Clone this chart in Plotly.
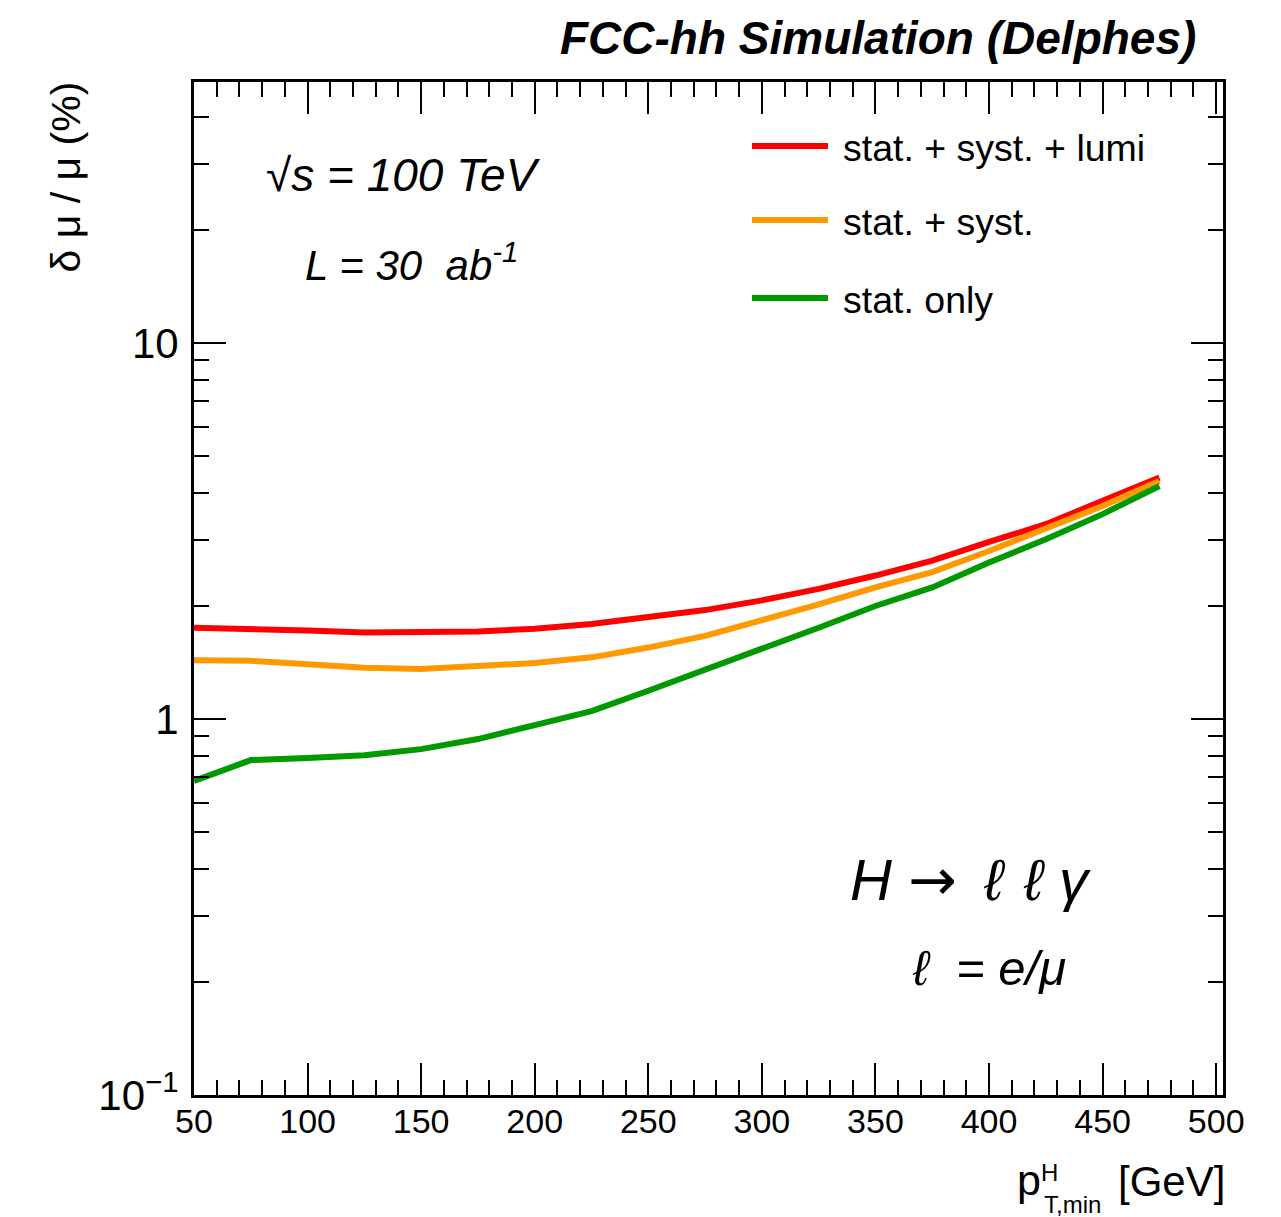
import plotly.graph_objects as go

# ---- data ----
pt_min = [50, 75, 100, 125, 150, 175, 200, 225, 250, 275, 300, 325, 350, 375, 400, 425, 450, 475]
stat_syst_lumi = [1.75, 1.74, 1.72, 1.70, 1.70, 1.71, 1.74, 1.79, 1.87, 1.95, 2.07, 2.22, 2.41, 2.64, 2.96, 3.30, 3.81, 4.39]
stat_syst = [1.435, 1.43, 1.40, 1.37, 1.36, 1.38, 1.41, 1.46, 1.55, 1.665, 1.83, 2.02, 2.24, 2.46, 2.80, 3.20, 3.69, 4.30]
stat_only = [0.685, 0.778, 0.788, 0.802, 0.832, 0.885, 0.964, 1.05, 1.19, 1.36, 1.54, 1.75, 2.00, 2.24, 2.61, 3.01, 3.51, 4.17]

series_names = ["stat. + syst. + lumi", "stat. + syst.", "stat. only"]
series_values = [stat_syst_lumi, stat_syst, stat_only]
series_colors = ["#ff0000", "#ff9900", "#009900"]

y_tickvals = [0.1, 1, 10]
y_ticktext = ["10<sup>\u22121</sup>", "1", "10"]
y_minor = [0.2, 0.3, 0.4, 0.5, 0.6, 0.7, 0.8, 0.9, 2, 3, 4, 5, 6, 7, 8, 9, 20, 30, 40]

# ---- layout geometry (screen pixels; page body has an 8px margin) ----
W, H = 1281, 1217
OFF = 8
L, R, T, B = 194, 1223, 82, 1095
FONT = "Liberation Sans, Arial, Helvetica, sans-serif"


def px(x):
    return (x - L) / (R - L)


def py(y):
    return (B - y) / (B - T)


fig = go.Figure()
for name, vals, col in zip(series_names, series_values, series_colors):
    fig.add_trace(go.Scatter(x=pt_min, y=vals, mode="lines", name=name,
                             line=dict(color=col, width=6), showlegend=False))

fig.update_layout(
    width=W - OFF, height=H - OFF,
    margin=dict(l=L - OFF, r=W - R, t=T - OFF, b=H - B),
    paper_bgcolor="white", plot_bgcolor="white",
    font=dict(family=FONT, color="black"),
)

fig.update_xaxes(
    range=[50, 503], showgrid=False, zeroline=False,
    showline=True, linecolor="black", linewidth=3, mirror="allticks",
    ticks="inside", ticklen=32, tickwidth=2, tickcolor="black",
    dtick=50, tick0=50, tickfont=dict(size=34, family=FONT),
    ticklabelstandoff=-6,
    minor=dict(dtick=10, tick0=50, ticks="inside", ticklen=15, tickwidth=2, tickcolor="black", showgrid=False),
)
fig.update_yaxes(
    type="log", range=[-1, 1.695], showgrid=False, zeroline=False,
    showline=True, linecolor="black", linewidth=3, mirror="allticks",
    ticks="inside", ticklen=32, tickwidth=2, tickcolor="black",
    tickvals=y_tickvals, ticktext=y_ticktext, tickfont=dict(size=42, family=FONT),
    ticklabelstandoff=4,
    minor=dict(tickvals=y_minor, ticks="inside", ticklen=15, tickwidth=2, tickcolor="black", showgrid=False),
)

ann = []


def add_text(text, x, y, size, xanchor="left", yanchor="middle", angle=0, italic=False, bold=False):
    t = text
    if italic:
        t = "<i>" + t + "</i>"
    if bold:
        t = "<b>" + t + "</b>"
    ann.append(dict(text=t, x=px(x), y=py(y), xref="paper", yref="paper",
                    xanchor=xanchor, yanchor=yanchor, showarrow=False, textangle=angle,
                    font=dict(size=size, family=FONT, color="black")))


# Title
add_text("FCC-hh Simulation (Delphes)", 1198, 38, 46, xanchor="right", italic=True, bold=True)
# In-plot labels
add_text("\u221As = 100 TeV", 264, 175, 46, italic=True)
add_text("L = 30  ab<sup>-1</sup>", 303, 262, 42, italic=True)
add_text("H <span style='font-family:DejaVu Sans'>\u2192</span> \u2009\u2113 \u200a\u2113 \u03b3",
         848, 880, 58, italic=True)
add_text("\u2113  = e/\u03bc", 910, 968, 49, italic=True)
# Axis titles
add_text("\u03b4 \u03bc / \u03bc (%)", 66, 80, 41, xanchor="center", yanchor="top", angle=-90)
add_text("p", 1029, 1180, 43, xanchor="center")
add_text("H", 1049, 1172, 24, xanchor="center")
add_text("T,min", 1072, 1204, 24, xanchor="center")
add_text("[GeV]", 1116, 1181, 42)

# Legend (manual)
shapes = []
leg_y = [146, 220, 298]
for name, col, yy in zip(series_names, series_colors, leg_y):
    shapes.append(dict(type="line", xref="paper", yref="paper", x0=px(752), x1=px(828),
                       y0=py(yy), y1=py(yy), line=dict(color=col, width=6)))
    add_text(name, 841, yy + 2, 37.5)

fig.update_layout(annotations=ann, shapes=shapes)
fig.write_html("out.html")
